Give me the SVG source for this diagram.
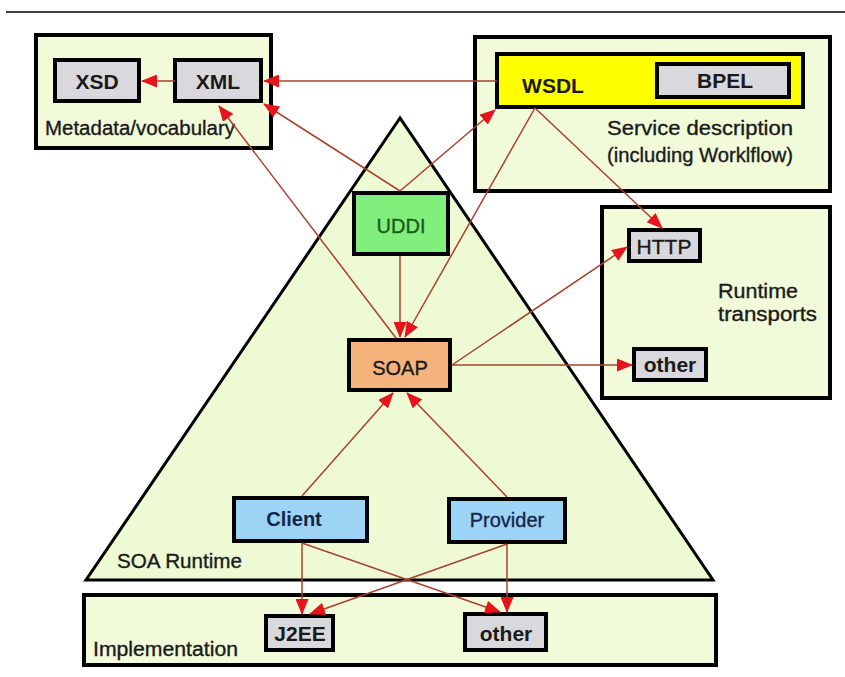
<svg xmlns="http://www.w3.org/2000/svg" width="845" height="677" viewBox="0 0 845 677">
  <defs>
    <marker id="arrow" viewBox="0 0 16 13" refX="15" refY="6.5" markerWidth="16" markerHeight="13" markerUnits="userSpaceOnUse" orient="auto">
      <path d="M0,0 L16,6.5 L0,13 Z" fill="#e5151b"/>
    </marker>
    <style>
      .area { fill: #f1fbd9; stroke: #000; stroke-width: 4; }
      .box { stroke: #000; stroke-width: 4; }
      .grey { fill: #d9d9dd; }
      .txt { font-family: "Liberation Sans", Arial, sans-serif; fill: #1a1a1a; }
      .b { font-weight: bold; }
      .lbl { font-size: 20px; stroke: #1a1a1a; stroke-width: 0.35; }
      .big { font-size: 21px; }
      .conn line { stroke: #a8412e; stroke-width: 1.5; marker-end: url(#arrow); }
    </style>
  </defs>

  <rect width="845" height="677" fill="#ffffff"/>
  <line x1="6" y1="12" x2="845" y2="12" stroke="#000" stroke-width="1.5"/>

  <!-- SOA runtime pyramid -->
  <g id="soa-runtime">
    <polygon points="400,118 86,580 713,580" fill="#eefad3" stroke="#000" stroke-width="3"/>
    <text class="txt lbl" x="117" y="568" textLength="125" lengthAdjust="spacingAndGlyphs">SOA Runtime</text>
  </g>

  <!-- Metadata / vocabulary -->
  <g id="metadata">
    <rect class="area" x="36" y="35" width="235" height="113"/>
    <text class="txt lbl" x="45" y="135" textLength="190" lengthAdjust="spacingAndGlyphs">Metadata/vocabulary</text>
  </g>
  <g id="xsd">
    <rect class="box grey" x="55" y="60" width="84" height="41"/>
    <text class="txt big b" x="97" y="89" text-anchor="middle">XSD</text>
  </g>
  <g id="xml">
    <rect class="box grey" x="175" y="60" width="86" height="41"/>
    <text class="txt big b" x="218" y="89" text-anchor="middle">XML</text>
  </g>

  <!-- Service description -->
  <g id="service-description">
    <rect class="area" x="475" y="37" width="355" height="154"/>
    <text class="txt lbl" x="607" y="135" textLength="186" lengthAdjust="spacingAndGlyphs">Service  description</text>
    <text class="txt lbl" x="607" y="162" textLength="186" lengthAdjust="spacingAndGlyphs">(including Worklflow)</text>
  </g>
  <g id="wsdl">
    <rect class="box" x="497" y="54" width="306" height="53" fill="#ffff00"/>
    <text class="txt big b" x="553" y="93" text-anchor="middle">WSDL</text>
  </g>
  <g id="bpel">
    <rect class="box grey" x="657" y="64" width="132" height="33"/>
    <text class="txt big b" x="725" y="88" text-anchor="middle">BPEL</text>
  </g>

  <!-- Runtime transports -->
  <g id="runtime-transports">
    <rect class="area" x="602" y="207" width="228" height="191"/>
    <text class="txt lbl" x="718" y="298" textLength="80" lengthAdjust="spacingAndGlyphs">Runtime</text>
    <text class="txt lbl" x="718" y="321" textLength="99" lengthAdjust="spacingAndGlyphs">transports</text>
  </g>
  <g id="http">
    <rect class="box grey" x="629" y="230" width="71" height="31"/>
    <text class="txt big" x="664" y="254" text-anchor="middle" stroke="#1a1a1a" stroke-width="0.35">HTTP</text>
  </g>
  <g id="transport-other">
    <rect class="box grey" x="634" y="349" width="72" height="31"/>
    <text class="txt big b" x="670" y="372" text-anchor="middle">other</text>
  </g>

  <!-- Runtime components -->
  <g id="uddi">
    <rect class="box" x="354" y="193" width="94" height="61" fill="#80ef7c"/>
    <text class="txt lbl" x="401" y="233" text-anchor="middle" style="fill:#1d5a1d;stroke:#1d5a1d">UDDI</text>
  </g>
  <g id="soap">
    <rect class="box" x="349" y="340" width="101" height="50" fill="#f6b37c"/>
    <text class="txt lbl" x="400" y="375" text-anchor="middle">SOAP</text>
  </g>
  <g id="client">
    <rect class="box" x="234" y="498" width="133" height="43" fill="#9dd4f5"/>
    <text class="txt lbl b" x="294" y="526" text-anchor="middle" style="fill:#14254a;stroke:none">Client</text>
  </g>
  <g id="provider">
    <rect class="box" x="449" y="499" width="116" height="43" fill="#9dd4f5"/>
    <text class="txt lbl" x="507" y="527" text-anchor="middle" style="fill:#14254a;stroke:#14254a">Provider</text>
  </g>

  <!-- Implementation -->
  <g id="implementation">
    <rect class="area" x="84" y="595" width="632" height="70"/>
    <text class="txt lbl" x="93" y="656" textLength="145" lengthAdjust="spacingAndGlyphs">Implementation</text>
  </g>
  <g id="j2ee">
    <rect class="box grey" x="266" y="616" width="67" height="34"/>
    <text class="txt big b" x="300" y="641" text-anchor="middle">J2EE</text>
  </g>
  <g id="impl-other">
    <rect class="box grey" x="465" y="614" width="81" height="36"/>
    <text class="txt big b" x="506" y="641" text-anchor="middle">other</text>
  </g>

  <!-- Connectors -->
  <g id="connectors" class="conn">
    <line x1="175" y1="81" x2="142" y2="81"/>
    <line x1="497" y1="81" x2="264" y2="81"/>
    <line x1="400" y1="191" x2="264" y2="104"/>
    <line x1="400" y1="191" x2="495" y2="110"/>
    <line x1="396" y1="338" x2="219" y2="106"/>
    <line x1="535" y1="108" x2="405" y2="337"/>
    <line x1="535" y1="108" x2="662" y2="228"/>
    <line x1="400" y1="256" x2="400" y2="337"/>
    <line x1="452" y1="365" x2="627" y2="247"/>
    <line x1="452" y1="365" x2="632" y2="365"/>
    <line x1="302" y1="496" x2="393" y2="393"/>
    <line x1="507" y1="497" x2="407" y2="393"/>
    <line x1="302" y1="543" x2="302" y2="614"/>
    <line x1="302" y1="543" x2="500" y2="612"/>
    <line x1="507" y1="544" x2="310" y2="614"/>
    <line x1="507" y1="544" x2="507" y2="612"/>
  </g>
</svg>
